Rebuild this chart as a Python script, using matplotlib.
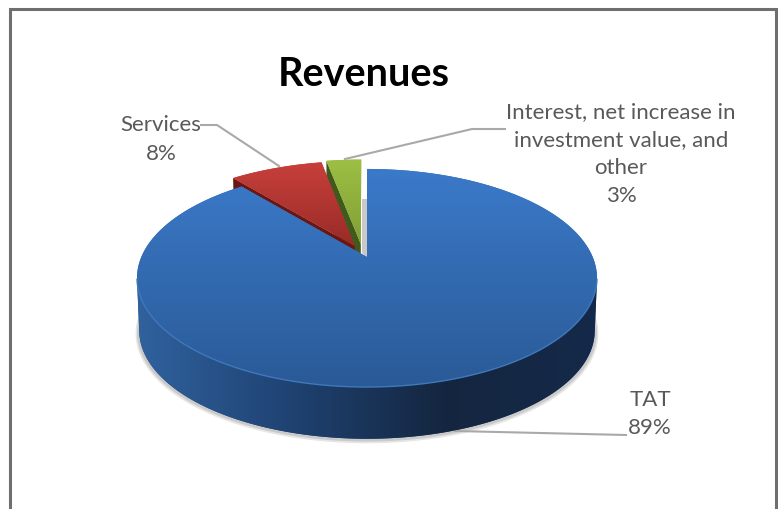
import numpy as np
import matplotlib
matplotlib.use('Agg')
import matplotlib.pyplot as plt
from matplotlib.colors import LinearSegmentedColormap
from matplotlib.patches import Polygon, Wedge
from matplotlib.path import Path
from matplotlib.transforms import Affine2D, Transform

names = ['TAT', 'Services', 'Interest, net increase in\ninvestment value, and\nother']
values = [89, 8, 3]
explode = [0, 0.12, 0.13]

title = 'Revenues'
gray_text = '#595959'
gray_line = '#a9a9a9'

plt.rcParams['font.family'] = ['Lato', 'DejaVu Sans']

# look of the tilted disc, in pixels
cx, cy = 367, 258
radius = 225.7
rise = 105
persp = 0.1926
depth = 53


class Tilt(Transform):
    # unit pie coordinates to reference pixels, back of the disc is smaller
    input_dims = 2
    output_dims = 2

    def __init__(self, scale=1.0, dy=0.0, dx=0.0):
        super().__init__()
        self.scale = scale
        self.dy = dy
        self.dx = dx

    def transform_non_affine(self, xy):
        xy = np.asarray(xy, dtype=float)
        s = self.scale / (1 + persp * xy[:, 1])
        return np.column_stack([cx + self.dx + radius * xy[:, 0] * s,
                                cy + self.dy - rise * xy[:, 1] * s])

    def transform_path_non_affine(self, path):
        polys = path.to_polygons(transform=Affine2D().scale(2000), closed_only=False)
        return Path(self.transform_non_affine(polys[0] / 2000))


def arc_points(w, tilt, lower_only=False):
    t = np.radians(np.linspace(w.theta1, w.theta2, 300))
    xy = np.column_stack([w.center[0] + w.r * np.cos(t), w.center[1] + w.r * np.sin(t)])
    if lower_only:
        xy = xy[xy[:, 1] <= -persp]
    return tilt.transform_non_affine(xy)


def gradient(ax, colors, patch, xr, yr, horizontal=False, zorder=1):
    cmap = LinearSegmentedColormap.from_list('g', colors)
    grad = np.linspace(0, 1, 256).reshape(1, -1) if horizontal else np.linspace(0, 1, 256).reshape(-1, 1)
    im = ax.imshow(grad, cmap=cmap, extent=(xr[0], xr[1], yr[1], yr[0]), aspect='auto', zorder=zorder)
    im.set_clip_path(patch)


def wall(ax, w, color, zorder, dx=0.0):
    # the cut face on the left side of an exploded slice
    t = np.radians(w.theta2)
    edge = np.array([w.center, [w.center[0] + w.r * np.cos(t), w.center[1] + w.r * np.sin(t)]])
    top = Tilt(dx=dx).transform_non_affine(edge)
    low = Tilt(0.99, depth, dx).transform_non_affine(edge)
    ax.add_patch(Polygon(np.vstack([top, low[::-1]]), fc=color, ec='none', zorder=zorder))


fig = plt.figure(figsize=(7.78, 5.10), dpi=100)
ax = fig.add_axes([0, 0, 1, 1])

wedges, _ = ax.pie(values, explode=explode, startangle=90, counterclock=False, radius=1)
ax.set_aspect('auto')
ax.axis('off')

blue, red, green = wedges

# soft shadow under the disc
for sc, dy, alpha in [(1.006, depth + 2.5, 0.18), (1.0, depth + 1.5, 0.25)]:
    ax.add_patch(Wedge(blue.center, blue.r, blue.theta1, blue.theta2, fc='#777777', ec='none', alpha=alpha,
                       transform=Tilt(sc, dy) + ax.transData, zorder=1))

# grey sliver behind the gap
ax.fill([362, 367, 367, 362], [200, 200, 259, 254], color='#c9c9c9', ec='none', zorder=1)

# green slice
wall(ax, green, '#3f5a1c', 2, dx=-3.5)
green.set(transform=Tilt(dx=-3.5) + ax.transData, fc='#8fb03c', ec='none', zorder=3)
gradient(ax, ['#9fc144', '#7d9c35'], green, (320, 370), (155, 255), zorder=3.1)

# red slice
wall(ax, red, '#6b1613', 4, dx=-1)
red.set(transform=Tilt(dx=-1) + ax.transData, fc='#b53632', ec='none', zorder=5)
gradient(ax, ['#cb413c', '#962a26'], red, (230, 365), (158, 250), zorder=5.1)

# side of the blue slice
side = np.vstack([arc_points(blue, Tilt(), True), arc_points(blue, Tilt(0.99, depth), True)[::-1]])
side_patch = Polygon(side, fc='#1c3c69', ec='none', zorder=6)
ax.add_patch(side_patch)
gradient(ax, ['#30629f', '#1f4272', '#14263f', '#14294a'], side_patch, (136, 600), (270, 445),
         horizontal=True, zorder=6.1)

# top of the blue slice
blue.set(transform=Tilt() + ax.transData, fc='#3369ad', ec='none', zorder=7)
gradient(ax, ['#3b7aca', '#2a5a96'], blue, (136, 600), (168, 390), zorder=7.1)
front = arc_points(blue, Tilt(), True)
ax.plot(front[:, 0], front[:, 1], color='#3f78bd', lw=1, zorder=7.2)

# leader lines
ax.plot([201, 217, 279], [126, 126, 167], color=gray_line, lw=1.5, zorder=8)
ax.plot([505, 472, 345], [130, 130, 160], color=gray_line, lw=1.5, zorder=8)
ax.plot([455, 626], [432, 436], color=gray_line, lw=1.5, zorder=6.05)

# labels
ax.text(364, 74, title, ha='center', va='center', fontsize=28.5, fontweight='bold', color='black', zorder=9)
ax.text(161, 139.5, '{}\n{}%'.format(names[1], values[1]), ha='center', va='center', fontsize=16,
        color=gray_text, linespacing=1.55, zorder=9)
ax.text(621, 154, '{}\n{}%'.format(names[2], values[2]), ha='center', va='center', fontsize=16,
        color=gray_text, linespacing=1.5, zorder=9)
ax.text(650, 414.5, '{}\n{}%'.format(names[0], values[0]), ha='center', va='center', fontsize=16,
        color=gray_text, linespacing=1.5, zorder=9)

# page frame, open at the bottom
ax.plot([10.5, 10.5, 776.5, 776.5], [510, 10, 10, 510], color='#6f6f6f', lw=2.2, zorder=9,
        solid_joinstyle='miter')

ax.set_xlim(0, 778)
ax.set_ylim(510, 0)
fig.savefig('out.png', dpi=100)
